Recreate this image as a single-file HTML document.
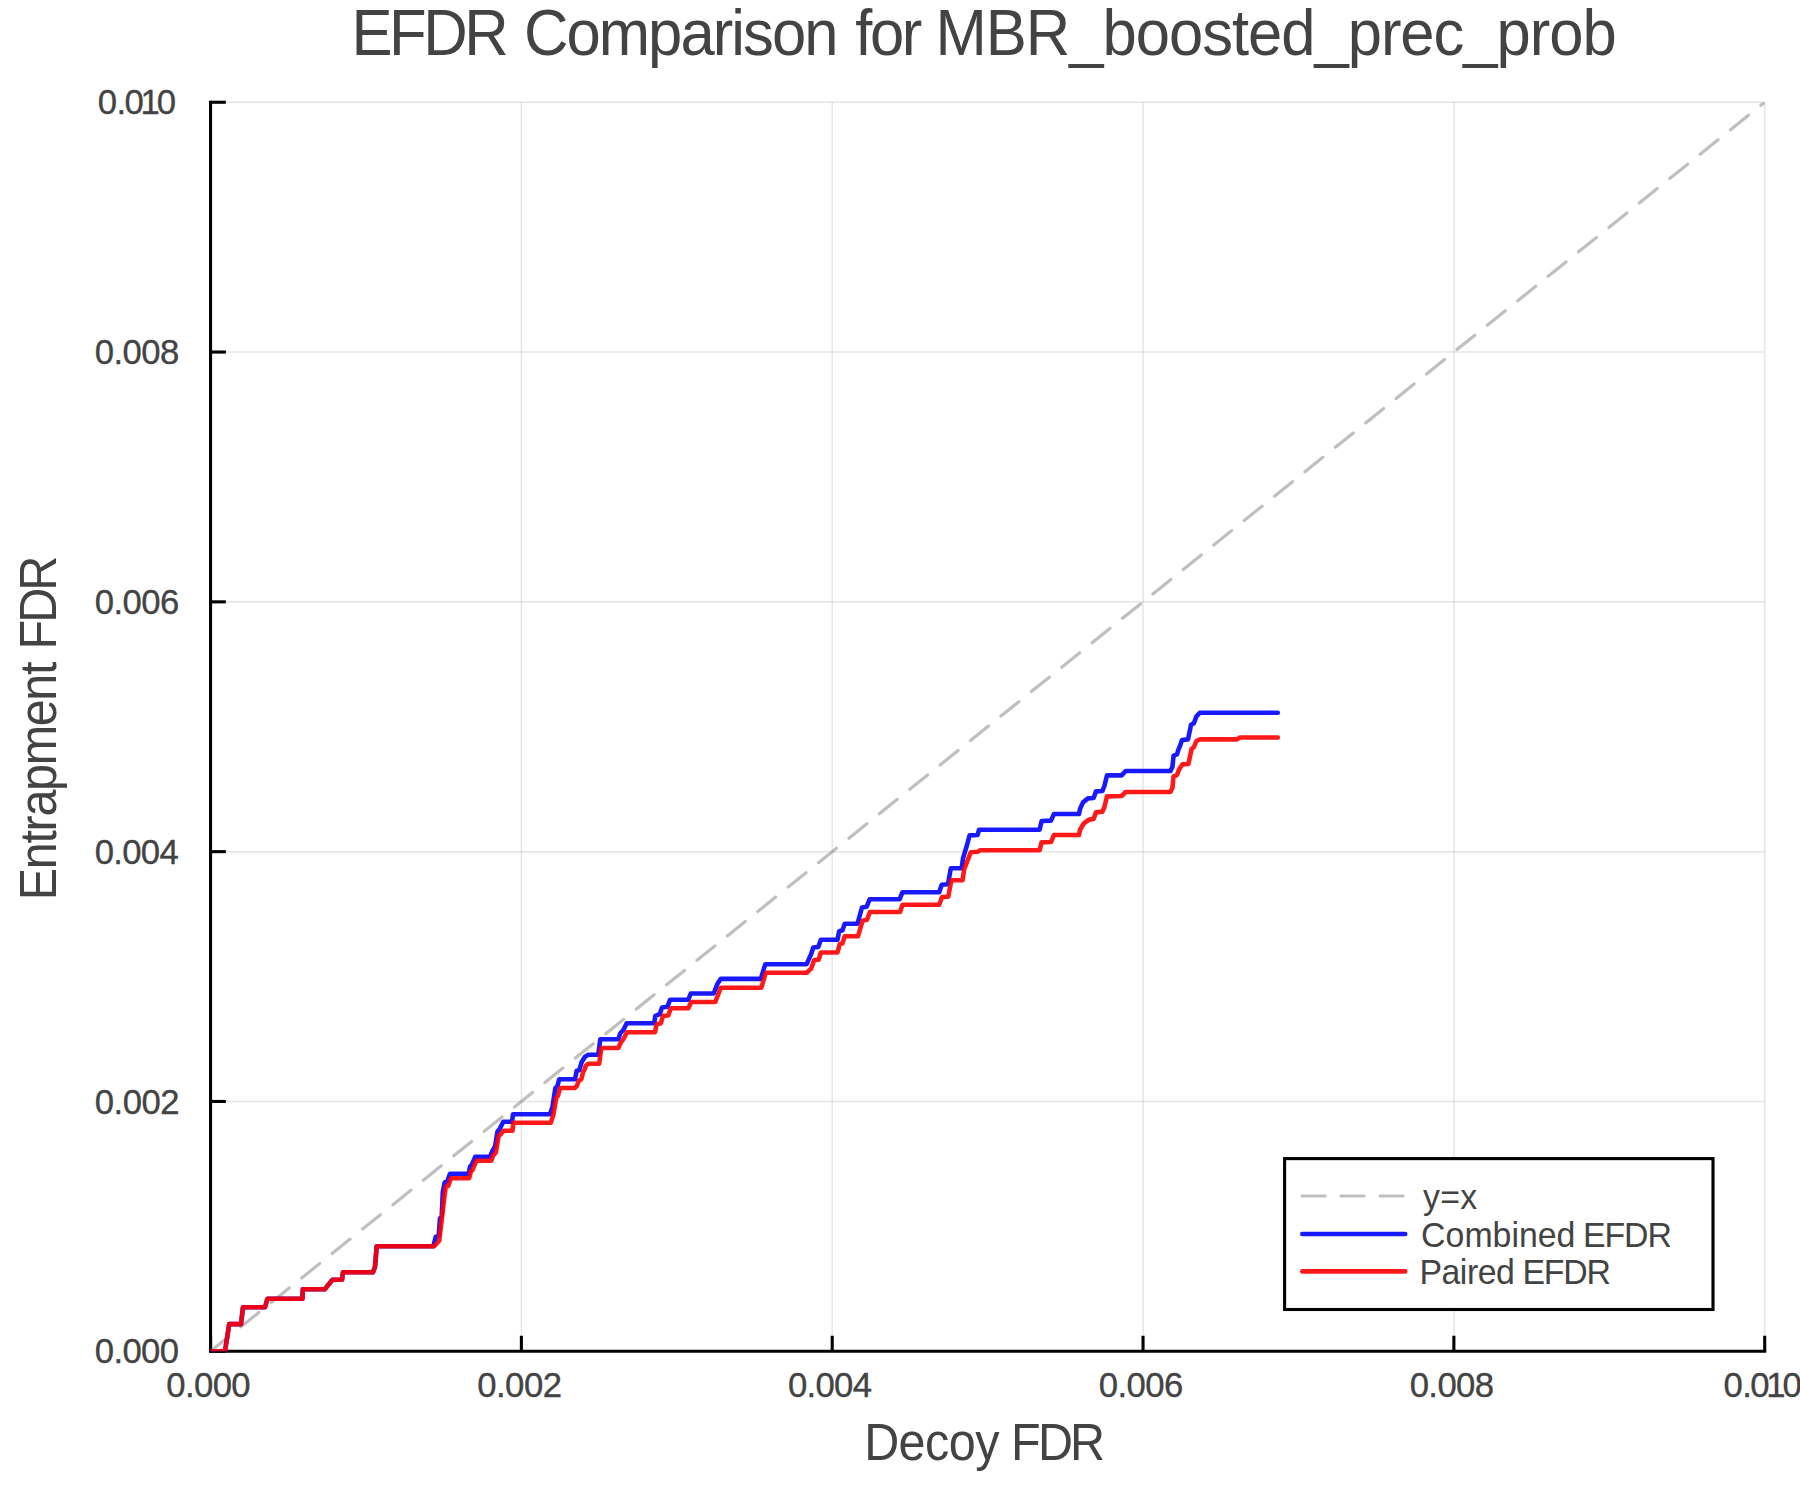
<!DOCTYPE html>
<html><head><meta charset="utf-8"><title>EFDR Comparison</title>
<style>html,body{margin:0;padding:0;background:#fff}svg{display:block}text{font-family:"Liberation Sans",sans-serif;fill:#434343}</style></head><body>
<svg width="1800" height="1500" viewBox="0 0 1800 1500">
<defs><clipPath id="pa"><rect x="210.55" y="102.25" width="1554.15" height="1249.00"/></clipPath></defs>
<rect width="1800" height="1500" fill="#fff"/>
<g stroke="#000" stroke-opacity="0.1" stroke-width="1.5"><line x1="521.38" y1="1351.25" x2="521.38" y2="102.25"/><line x1="832.21" y1="1351.25" x2="832.21" y2="102.25"/><line x1="1143.04" y1="1351.25" x2="1143.04" y2="102.25"/><line x1="1453.87" y1="1351.25" x2="1453.87" y2="102.25"/><line x1="1764.70" y1="1351.25" x2="1764.70" y2="102.25"/><line x1="210.55" y1="1101.45" x2="1764.70" y2="1101.45"/><line x1="210.55" y1="851.65" x2="1764.70" y2="851.65"/><line x1="210.55" y1="601.85" x2="1764.70" y2="601.85"/><line x1="210.55" y1="352.05" x2="1764.70" y2="352.05"/><line x1="210.55" y1="102.25" x2="1764.70" y2="102.25"/></g>
<g stroke="#000" stroke-width="3.1"><line x1="209.00" y1="1351.25" x2="1766.25" y2="1351.25"/><line x1="210.55" y1="1352.80" x2="210.55" y2="100.70"/><line x1="210.55" y1="1351.25" x2="210.55" y2="1335.75"/><line x1="521.38" y1="1351.25" x2="521.38" y2="1335.75"/><line x1="832.21" y1="1351.25" x2="832.21" y2="1335.75"/><line x1="1143.04" y1="1351.25" x2="1143.04" y2="1335.75"/><line x1="1453.87" y1="1351.25" x2="1453.87" y2="1335.75"/><line x1="1764.70" y1="1351.25" x2="1764.70" y2="1335.75"/><line x1="210.55" y1="1351.25" x2="225.85" y2="1351.25"/><line x1="210.55" y1="1101.45" x2="225.85" y2="1101.45"/><line x1="210.55" y1="851.65" x2="225.85" y2="851.65"/><line x1="210.55" y1="601.85" x2="225.85" y2="601.85"/><line x1="210.55" y1="352.05" x2="225.85" y2="352.05"/><line x1="210.55" y1="102.25" x2="225.85" y2="102.25"/></g>
<g clip-path="url(#pa)" fill="none">
<line x1="210.55" y1="1351.25" x2="1764.70" y2="102.25" stroke="#808080" stroke-opacity="0.5" stroke-width="3.2" stroke-linecap="round" stroke-dasharray="23 16"/>
<polyline points="210.8,1351.25 225,1351.25 229.2,1324.1 241,1324.1 243,1307.2 265,1307.2 267.5,1298.7 302.5,1298.7 302.8,1289.2 324.7,1289.2 332.5,1279.7 342,1279.7 343,1272.2 373,1272.2 375,1266.7 376.7,1246.3 433.3,1246.3 435.8,1236.7 438.7,1235.8 440,1218.3 441.7,1216.7 442.8,1192 444.7,1182.5 447.5,1180.8 450,1173.8 468.7,1173.8 470,1166.7 471.7,1165 475.3,1156.7 490,1156.7 492.5,1150.8 495,1146.7 497.5,1131.7 500,1128.3 503.3,1121.7 512,1121.7 513,1114.2 550,1114.2 552.5,1106.7 555.3,1088.3 557.5,1085.8 559.2,1079.2 575,1079.2 576.7,1070.8 579.2,1070.3 581.7,1062 585,1056.7 588.3,1054.7 598.3,1054.7 600.3,1039.2 618.3,1039.2 620.3,1033.3 623.3,1030 626.7,1023.3 654.2,1023.3 655.3,1015.8 659.7,1014.2 662,1007.5 667.5,1006.7 670,999.7 688.3,999.7 690.8,993.5 713.7,993.5 717.5,983.7 720.8,978.9 760.8,978.9 765.3,964.2 806.7,964.2 809.2,958.3 810.8,955 813.3,947.5 818.3,947 820.8,939.7 837.5,939.7 839.2,931.2 842.5,930.3 844.7,923.7 857.5,923.7 862,907.5 866.7,906.7 869.7,899.2 899.7,899.2 902.5,892.2 939.2,892.2 941.7,884.7 948,884.2 950.8,868.3 961.7,868.3 963,858.3 967,845 969.6,835.4 977.6,835 979,829.8 1039.6,829.8 1041.6,821 1051,820.6 1054,814 1079,814 1080,809 1083,802.4 1088,798.4 1093.6,798 1096,791.4 1102.4,791 1104.4,786 1107,775.4 1121.6,775.4 1125.6,771 1170.4,771 1172.4,767 1173.6,755.6 1177,754.4 1178.4,749.6 1180,746 1182,740 1188,739.4 1191,725 1194,723 1196.4,716.4 1200,712.7 1277.8,712.7" stroke="#0000ff" stroke-opacity="0.9" stroke-width="4.6" stroke-linejoin="round" stroke-linecap="round"/>
<polyline points="210.8,1351.25 225,1351.25 229.2,1324.1 241,1324.1 243,1307.2 265,1307.2 267.5,1298.7 302.5,1298.7 302.8,1289.2 324.7,1289.2 332.5,1279.7 342,1279.7 343,1272.2 373,1272.2 375,1266.7 376.7,1246.3 434.2,1246.3 439.2,1240.8 441.3,1223.3 444.2,1198.3 445.8,1186.7 448.3,1185.8 450.8,1178.3 469.2,1178.3 470.8,1171.7 472.5,1170 476.3,1160.8 491.3,1160.8 493,1155.8 495.8,1152.5 498.7,1135.8 500.8,1134.2 503.3,1130.8 512.5,1130.8 513.3,1122.8 550.8,1122.8 553.3,1115 556.3,1097.5 558,1095.8 560,1088 574.7,1088 577,1085.8 578.7,1080.8 581.3,1079.2 583,1072.5 584.7,1069.2 585.8,1065.8 588.3,1063.7 599.2,1063.7 601.3,1048 618.3,1048 620.8,1042.5 623.3,1039.2 627,1032.2 655,1032.2 656.7,1024.2 660.8,1023.3 663,1015.8 668.3,1015.5 670.8,1008.3 688.3,1008.3 691.3,1002 715.3,1002 720.8,987.7 761.3,987.7 765.8,972.8 806.7,972.8 811.3,968.3 814.2,960 818.7,959.7 820.8,952.5 837.5,952.5 839.7,944.2 842.5,943.3 844.7,936.3 858,936.3 862.5,920.8 867,919.7 870,912 900,912 902.5,904.7 939.2,904.7 942,897 948.3,896.7 951.3,880.3 962.5,880.3 964.2,869.2 970.8,852.2 978,851.8 980,850.2 1039.6,850.2 1041.6,842.4 1051,842 1054,835 1079,835 1080,830 1083.6,823.6 1089,819.6 1093.6,819 1096,812.4 1102.4,811.6 1104.4,807 1107,796.4 1121.6,796 1125.6,792 1170.4,792 1172.4,788 1173.6,776.4 1177,775 1179,769.6 1182.4,764.4 1188.4,764 1191.6,749 1194,747 1196.4,741 1200,739.4 1237,739.4 1240,737.5 1277.8,737.5" stroke="#ff0000" stroke-opacity="0.9" stroke-width="4.6" stroke-linejoin="round" stroke-linecap="round"/>
</g>
<g stroke="#434343" stroke-width="0.35" font-size="34.7px"><text id="xt0" x="166.36" y="1397.00" letter-spacing="-0.637">0.000</text><text id="xt1" x="477.19" y="1397.00" letter-spacing="-0.507">0.002</text><text id="xt2" x="788.02" y="1397.00" letter-spacing="-0.724">0.004</text><text id="xt3" x="1098.85" y="1397.00" letter-spacing="-0.594">0.006</text><text id="xt4" x="1409.68" y="1397.00" letter-spacing="-0.594">0.008</text><text id="xt5" x="1723.51" y="1397.00" letter-spacing="-0.637" dx="0 0 -0.9 -2.8 -2.4">0.010</text><text id="yt0" x="94.81" y="1363.35" letter-spacing="-0.637">0.000</text><text id="yt1" x="94.81" y="1113.55" letter-spacing="-0.507">0.002</text><text id="yt2" x="94.81" y="863.75" letter-spacing="-0.724">0.004</text><text id="yt3" x="94.81" y="613.95" letter-spacing="-0.594">0.006</text><text id="yt4" x="94.81" y="364.15" letter-spacing="-0.594">0.008</text><text id="yt5" x="97.81" y="114.35" letter-spacing="-0.637" dx="0 0 -0.9 -2.8 -2.4">0.010</text></g>
<text id="title" transform="translate(356.30,54.80) scale(0.940,1)" font-size="65.50px" xml:space="preserve"><tspan x="-5.24" letter-spacing="-3.641">EFDR </tspan><tspan x="178.32" letter-spacing="-2.043">Comparison </tspan><tspan x="530.93" letter-spacing="-2.597">for </tspan><tspan x="616.25" letter-spacing="-1.080">MBR_boosted_prec_prob</tspan></text>
<text id="xlab" transform="translate(868.00,1459.70) scale(0.940,1)" font-size="51.60px" xml:space="preserve"><tspan x="-4.13" letter-spacing="-0.555">Decoy </tspan><tspan x="152.25" letter-spacing="-3.016">FDR</tspan></text>
<text id="ylab" transform="translate(55.60,896.30) rotate(-90) scale(0.940,1)" font-size="51.60px" xml:space="preserve"><tspan x="-4.13" letter-spacing="-1.430">Entrapment </tspan><tspan x="262.68" letter-spacing="-3.122">FDR</tspan></text>
<rect x="1284.6" y="1158.6" width="428.4" height="150.9" fill="#fff" stroke="#000" stroke-width="3.1"/>
<line x1="1302.1" y1="1196" x2="1405.4" y2="1196" stroke="#808080" stroke-opacity="0.5" stroke-width="3.2" stroke-linecap="round" stroke-dasharray="23 16"/>
<line x1="1302.3" y1="1234" x2="1405.2" y2="1234" stroke="#0000ff" stroke-opacity="0.9" stroke-width="4.6" stroke-linecap="round"/>
<line x1="1302.3" y1="1271.4" x2="1405.2" y2="1271.4" stroke="#ff0000" stroke-opacity="0.9" stroke-width="4.6" stroke-linecap="round"/>
<text id="l1" transform="translate(1423.20,1208.60) scale(0.940,1)" font-size="36.00px" xml:space="preserve"><tspan x="-0.18" letter-spacing="0.234">y=x</tspan></text>
<text id="l2" transform="translate(1422.80,1246.50) scale(0.940,1)" font-size="36.00px" xml:space="preserve"><tspan x="-1.80" letter-spacing="0.012">Combined </tspan><tspan x="170.52" letter-spacing="-1.186">EFDR</tspan></text>
<text id="l3" transform="translate(1422.10,1283.90) scale(0.940,1)" font-size="36.00px" xml:space="preserve"><tspan x="-2.88" letter-spacing="-0.487">Paired </tspan><tspan x="106.69" letter-spacing="-1.293">EFDR</tspan></text>
</svg></body></html>
